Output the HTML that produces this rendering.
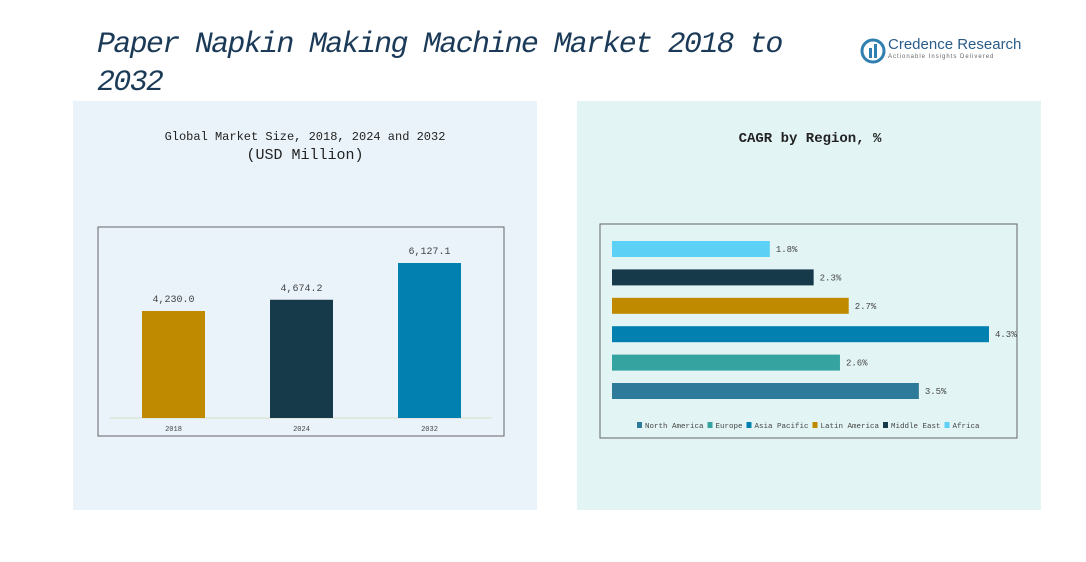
<!DOCTYPE html>
<html><head><meta charset="utf-8"><style>
body{margin:0;width:1086px;height:562px;background:#fff;position:relative;overflow:hidden;font-family:"Liberation Mono","Noto Sans CJK SC",monospace}
.abs{position:absolute}
</style></head><body>
<div class="abs" style="left:73px;top:101px;width:464px;height:409px;background:#eaf3fa"></div>
<div class="abs" style="left:577px;top:101px;width:464px;height:409px;background:#e3f4f4"></div>
<div class="abs" style="left:97px;top:26px;width:720px;font:italic 30px/38px 'Liberation Mono',monospace;color:#1b3a57;letter-spacing:-1.7px">Paper Napkin Making Machine Market 2018 to 2032</div>
<div class="abs" style="left:860px;top:36px;width:170px;height:30px">
<svg width="26" height="26" style="position:absolute;left:0;top:2px"><circle cx="13" cy="13" r="11" fill="none" stroke="#2f7fb0" stroke-width="3"/><rect x="9" y="10" width="3" height="10" fill="#2f7fb0"/><rect x="14" y="6" width="3" height="14" fill="#2f7fb0"/></svg>
<div style="position:absolute;left:28px;top:0;font:15px 'Liberation Sans',sans-serif;color:#2a5c8a">Credence Research</div>
<div style="position:absolute;left:28px;top:18px;font:6px 'Liberation Sans',sans-serif;color:#666;letter-spacing:1px">Actionable Insights Delivered</div>
</div>
<div class="abs" style="left:100px;top:130px;width:410px;text-align:center;font:12px 'Liberation Mono',monospace;color:#222">Global Market Size, 2018, 2024 and 2032<br><span style="font-size:15px;line-height:24px">(USD Million)</span></div>
<div class="abs" style="left:600px;top:131px;width:420px;text-align:center;font:bold 14px 'Liberation Mono',monospace;color:#222">CAGR by Region, %</div>
<svg class="abs" style="left:0;top:0" width="1086" height="562" id="svg">
<rect x="98" y="227" width="406" height="209" fill="none" stroke="#666"/>
<line x1="110" y1="418" x2="492" y2="418" stroke="#d8dcc8"/>
<rect x="600" y="224" width="417" height="214" fill="none" stroke="#666"/>
</svg>
<script>
const years=["2018","2024","2032"];
const sizes=[4230.0,4674.2,6127.1];
const sizeLabels=["4,230.0","4,674.2","6,127.1"];
const regions=["North America","Europe","Asia Pacific","Latin America","Middle East","Africa"];
const cagr=[3.5,2.6,4.3,2.7,2.3,1.8];
const barColors=["#c08a00","#173a4a","#0280b0"];
const regColors=["#2e7a9a","#35a39f","#0280b0","#c08a00","#173a4a","#5dd0f5"];
const svg=document.getElementById('svg');const NS="http://www.w3.org/2000/svg";
function mk(t,a){const e=document.createElementNS(NS,t);for(const k in a)e.setAttribute(k,a[k]);svg.appendChild(e);return e;}
const base=418,ky=155/6127.1;
function yv(v){return base-v*ky;}
years.forEach((y,i)=>{const x=142+i*128,t=yv(sizes[i]);
const r=mk('rect',{x:x,y:t,width:63,height:base-t,fill:barColors[i]});


const l=mk('text',{x:x+31.5,y:t-9,'text-anchor':'middle','font-size':10,fill:'#444','font-family':'Liberation Mono,monospace'});l.textContent=sizeLabels[i];


const c=mk('text',{x:x+31.5,y:431,'text-anchor':'middle','font-size':7,fill:'#444','font-family':'Liberation Mono,monospace'});c.textContent=y;


});
const x0=612,kx=377/4.3;
regions.forEach((r,i)=>{const y=383-i*28.4,w=cagr[i]*kx;
const b=mk('rect',{x:x0,y:y,width:w,height:16,fill:regColors[i]});


const t=mk('text',{x:x0+w+6,y:y+11,'font-size':9,fill:'#444','font-family':'Liberation Mono,monospace'});t.textContent=cagr[i].toFixed(1)+'%';


});
let lx=637;
regions.forEach((r,i)=>{
const s=mk('rect',{x:lx,y:422,width:5,height:6,fill:regColors[i]});


const t=mk('text',{x:lx+8,y:428,'font-size':7.5,fill:'#444','font-family':'Liberation Mono,monospace'});t.textContent=r;


lx+=8+r.length*4.5+4;
});
</script>
</body></html>
